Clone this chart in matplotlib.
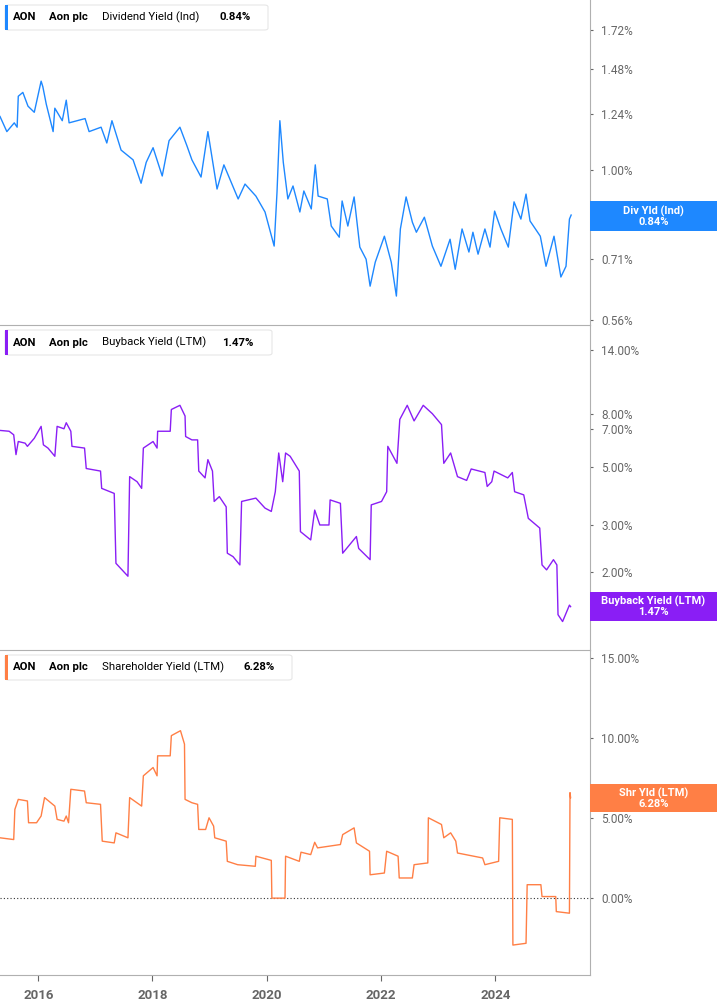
import numpy as np
import matplotlib.pyplot as plt
from matplotlib.patches import FancyBboxPatch, Rectangle
from matplotlib.ticker import FixedLocator, NullLocator

plt.rcParams["font.family"] = "Roboto"

# ---- data ----
div_dates = [2015.33, 2015.45, 2015.58, 2015.63, 2015.65, 2015.73, 2015.82, 2015.93, 2016.05, 2016.08,
             2016.14, 2016.26, 2016.29, 2016.42, 2016.49, 2016.54, 2016.82, 2016.89, 2017.10, 2017.20,
             2017.29, 2017.45, 2017.66, 2017.80, 2017.89, 2018.01, 2018.17, 2018.29, 2018.48, 2018.60,
             2018.69, 2018.85, 2018.97, 2019.13, 2019.25, 2019.50, 2019.62, 2019.81, 2019.97, 2020.13,
             2020.18, 2020.23, 2020.29, 2020.37, 2020.46, 2020.58, 2020.65, 2020.78, 2020.85, 2020.90,
             2021.06, 2021.13, 2021.27, 2021.32, 2021.42, 2021.53, 2021.63, 2021.74, 2021.81, 2021.90,
             2022.06, 2022.18, 2022.27, 2022.34, 2022.44, 2022.55, 2022.62, 2022.76, 2022.90, 2023.05,
             2023.21, 2023.30, 2023.42, 2023.54, 2023.61, 2023.70, 2023.82, 2023.91, 2023.99, 2024.10,
             2024.23, 2024.33, 2024.45, 2024.54, 2024.61, 2024.79, 2024.89, 2025.03, 2025.15, 2025.24,
             2025.30, 2025.33]
div_yield = [1.23, 1.16, 1.20, 1.18, 1.33, 1.35, 1.28, 1.25, 1.41, 1.38,
             1.29, 1.16, 1.27, 1.21, 1.31, 1.20, 1.22, 1.16, 1.18, 1.11,
             1.21, 1.08, 1.04, 0.95, 1.03, 1.09, 0.977, 1.12, 1.18, 1.10,
             1.04, 0.973, 1.16, 0.929, 1.02, 0.894, 0.947, 0.904, 0.850, 0.745,
             0.918, 1.21, 1.03, 0.894, 0.940, 0.850, 0.922, 0.860, 1.02, 0.904,
             0.894, 0.805, 0.771, 0.887, 0.805, 0.901, 0.742, 0.708, 0.638, 0.700,
             0.774, 0.700, 0.614, 0.796, 0.901, 0.817, 0.786, 0.833, 0.745, 0.689,
             0.765, 0.681, 0.796, 0.728, 0.786, 0.722, 0.796, 0.742, 0.853, 0.796,
             0.742, 0.884, 0.827, 0.911, 0.821, 0.774, 0.689, 0.774, 0.661, 0.689,
             0.827, 0.84]

bb_dates = [2015.33, 2015.49, 2015.57, 2015.61, 2015.65, 2015.77, 2015.81, 2015.93, 2016.05, 2016.09,
            2016.17, 2016.29, 2016.33, 2016.45, 2016.49, 2016.57, 2016.59, 2016.81, 2016.84, 2017.09,
            2017.11, 2017.33, 2017.36, 2017.57, 2017.60, 2017.73, 2017.81, 2017.84, 2018.01, 2018.08,
            2018.09, 2018.31, 2018.33, 2018.48, 2018.57, 2018.58, 2018.69, 2018.79, 2018.81, 2018.92,
            2018.97, 2019.05, 2019.08, 2019.17, 2019.29, 2019.31, 2019.41, 2019.53, 2019.56, 2019.81,
            2019.97, 2020.08, 2020.15, 2020.21, 2020.28, 2020.33, 2020.41, 2020.57, 2020.59, 2020.77,
            2020.84, 2020.93, 2021.09, 2021.11, 2021.29, 2021.33, 2021.57, 2021.61, 2021.81, 2021.83,
            2022.01, 2022.10, 2022.12, 2022.28, 2022.33, 2022.46, 2022.58, 2022.74, 2022.90, 2023.06,
            2023.10, 2023.22, 2023.34, 2023.50, 2023.58, 2023.82, 2023.86, 2023.94, 2023.98, 2024.22,
            2024.30, 2024.34, 2024.50, 2024.58, 2024.78, 2024.82, 2024.90, 2025.02, 2025.08, 2025.10,
            2025.18, 2025.30, 2025.32]
bb_yield = [6.9, 6.85, 6.64, 5.58, 6.26, 6.17, 6.0, 6.44, 7.15, 6.08,
            5.91, 5.5, 7.15, 7.0, 7.38, 6.85, 6.0, 5.91, 4.94, 4.83,
            4.15, 3.97, 2.15, 1.92, 4.6, 4.4, 4.15, 5.91, 6.26, 5.91,
            6.85, 6.85, 8.29, 8.6, 7.83, 6.54, 6.35, 6.35, 4.83, 4.55,
            5.34, 4.83, 3.70, 3.86, 3.53, 2.35, 2.28, 2.12, 3.70, 3.81,
            3.49, 3.39, 4.03, 5.66, 4.4, 5.66, 5.5, 4.83, 2.84, 2.64,
            3.43, 3.01, 3.01, 3.75, 3.64, 2.35, 2.72, 2.45, 2.22, 3.59,
            3.70, 4.03, 6.0, 5.17, 7.6, 8.6, 7.5, 8.6, 7.99, 7.26,
            5.17, 5.66, 4.6, 4.45, 4.92, 4.77, 4.22, 4.4, 4.83, 4.55,
            4.77, 4.03, 3.92, 3.19, 2.93, 2.12, 2.03, 2.22, 2.12, 1.37,
            1.29, 1.49, 1.47]

sh_dates = [2015.33, 2015.57, 2015.59, 2015.65, 2015.81, 2015.83, 2015.97, 2016.05, 2016.11, 2016.29,
            2016.33, 2016.45, 2016.49, 2016.53, 2016.57, 2016.81, 2016.84, 2017.09, 2017.12, 2017.33,
            2017.36, 2017.57, 2017.60, 2017.81, 2017.84, 2018.01, 2018.08, 2018.09, 2018.31, 2018.33,
            2018.49, 2018.56, 2018.57, 2018.69, 2018.79, 2018.81, 2018.93, 2018.99, 2019.07, 2019.09,
            2019.29, 2019.31, 2019.49, 2019.80, 2019.81, 2020.08, 2020.09, 2020.32, 2020.33, 2020.57,
            2020.60, 2020.77, 2020.84, 2020.89, 2021.29, 2021.33, 2021.53, 2021.57, 2021.80, 2021.81,
            2022.06, 2022.10, 2022.30, 2022.32, 2022.55, 2022.58, 2022.82, 2022.83, 2023.06, 2023.10,
            2023.22, 2023.31, 2023.34, 2023.78, 2023.82, 2024.06, 2024.08, 2024.30, 2024.31, 2024.54,
            2024.56, 2024.80, 2024.82, 2025.06, 2025.07, 2025.30, 2025.31, 2025.32]
sh_yield = [3.77, 3.66, 5.54, 6.17, 6.07, 4.71, 4.71, 5.13, 6.28, 5.75,
            4.92, 4.81, 5.13, 4.71, 6.80, 6.69, 5.96, 5.86, 3.56, 3.45,
            4.08, 3.77, 6.28, 5.75, 7.64, 8.16, 7.64, 8.89, 8.89, 10.15,
            10.46, 9.62, 6.17, 5.96, 5.86, 4.29, 4.29, 5.02, 4.50, 3.77,
            3.56, 2.30, 2.09, 1.99, 2.62, 2.36, 0.0, 0.0, 2.62, 2.30,
            2.87, 2.72, 3.49, 3.14, 3.35, 3.97, 4.39, 3.45, 2.93, 1.46,
            1.57, 2.93, 2.62, 1.26, 1.26, 2.09, 2.20, 5.02, 4.60, 3.77,
            4.08, 3.56, 2.82, 2.51, 2.09, 2.30, 5.02, 4.92, -2.93, -2.82,
            0.84, 0.84, 0.10, 0.10, -0.84, -0.94, 6.59, 6.28]

year_ticks = [2016, 2018, 2020, 2022, 2024]
div_ticks = [0.56, 0.71, 1.00, 1.24, 1.48, 1.72]
bb_ticks = [2, 3, 5, 7, 8, 14]
sh_ticks = [0, 5, 10, 15]

GRAY = "#666666"
LINE = "#b0b0b0"

fig = plt.figure(figsize=(7.17, 10.05), dpi=100)
W = 590 / 717
ax1 = fig.add_axes([0, 1 - 325 / 1005, W, 325 / 1005])
ax2 = fig.add_axes([0, 1 - 650 / 1005, W, 325 / 1005])
ax3 = fig.add_axes([0, 1 - 975 / 1005, W, 325 / 1005])

panels = [
    (ax1, div_dates, div_yield, "#1e88ff", "Dividend Yield (Ind)", "0.84%", ["Div Yld (Ind)", "0.84%"],
     (0.289, 0.3815), 268, 220),
    (ax2, bb_dates, bb_yield, "#8a1ef5", "Buyback Yield (LTM)", "1.47%", ["Buyback Yield (LTM)", "1.47%"],
     (0.089, 0.178), 272, 222),
    (ax3, sh_dates, sh_yield, "#ff7f45", "Shareholder Yield (LTM)", "6.28%", ["Shr Yld (LTM)", "6.28%"],
     (0.5015, 0.588), 292, 243),
]

for ax, d, v, col, name, last, tag, (t0, t1), boxw, valx in panels:
    ax.plot(d, v, color=col, lw=1.0)
    ax.set_xlim(2015.33, 2025.66)
    for s in ["left", "top", "bottom"]:
        ax.spines[s].set_visible(False)
    ax.spines["right"].set_color(LINE)
    ax.yaxis.tick_right()
    ax.tick_params(axis="y", colors=GRAY, labelsize=8.5, length=2, width=0.8, pad=6)
    ax.xaxis.set_major_locator(NullLocator())
    ax.set_facecolor("white")
    # legend box
    box = FancyBboxPatch((5 / 590, 1 - 30 / 325), (boxw - 5) / 590, 25 / 325,
                         boxstyle="round,pad=0,rounding_size=0.006", transform=ax.transAxes,
                         facecolor="white", edgecolor="#e6e6e6", lw=0.8, zorder=5)
    ax.add_patch(box)
    ax.add_patch(Rectangle((5 / 590, 1 - 30 / 325), 3 / 590, 25 / 325, transform=ax.transAxes,
                           facecolor=col, edgecolor="none", zorder=6))
    ty = 1 - 17.5 / 325
    ax.text(13 / 590, ty, "AON", transform=ax.transAxes, fontsize=8.2, fontweight="bold", va="center", zorder=7)
    ax.text(49 / 590, ty, "Aon plc", transform=ax.transAxes, fontsize=8.2, fontweight="bold", va="center", zorder=7)
    ax.text(102 / 590, ty, name, transform=ax.transAxes, fontsize=8.2, va="center", zorder=7)
    ax.text(valx / 590, ty, last, transform=ax.transAxes, fontsize=8.2, fontweight="bold", va="center", zorder=7)
    # right value tag
    ax.add_patch(Rectangle((1.0, t0), 127 / 590, t1 - t0, transform=ax.transAxes, facecolor=col,
                           edgecolor="none", clip_on=False, zorder=8))
    ax.text(1 + 63.5 / 590, (t0 + t1) / 2, tag[0] + "\n" + tag[1], transform=ax.transAxes, ha="center",
            va="center", color="white", fontsize=8, fontweight="bold", linespacing=1.0, clip_on=False, zorder=9)

ax1.set_yscale("log")
ax1.set_ylim(0.549, 1.93)
ax1.yaxis.set_major_locator(FixedLocator(div_ticks))
ax1.yaxis.set_minor_locator(NullLocator())
ax1.set_yticklabels([f"{t:.2f}%" for t in div_ticks])

ax2.set_yscale("log")
ax2.set_ylim(1.005, 17.4)
ax2.yaxis.set_major_locator(FixedLocator(bb_ticks))
ax2.yaxis.set_minor_locator(NullLocator())
ax2.set_yticklabels([f"{t:.2f}%" for t in bb_ticks])

ax3.set_ylim(-4.8, 15.5)
ax3.set_yticks(sh_ticks)
ax3.set_yticklabels([f"{t:.2f}%" for t in sh_ticks])
ax3.axhline(0, color="#333333", lw=0.8, ls=(0, (1, 2)), zorder=1)

for ax in (ax2, ax3):
    ax.spines["top"].set_visible(True)
    ax.spines["top"].set_color(LINE)

ax3.spines["bottom"].set_visible(True)
ax3.spines["bottom"].set_color(LINE)
ax3.set_xticks(year_ticks)
ax3.set_xticklabels([str(y) for y in year_ticks])
ax3.tick_params(axis="x", colors=GRAY, labelsize=9.5, length=4, width=0.8, pad=6)
for lbl in ax3.get_xticklabels():
    lbl.set_fontweight("bold")

fig.savefig("out.png", dpi=100, facecolor="white")
